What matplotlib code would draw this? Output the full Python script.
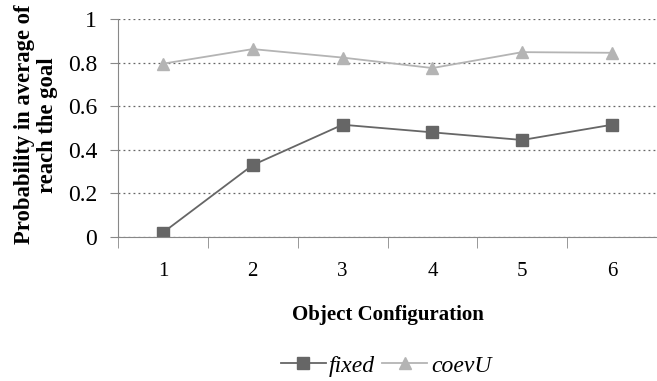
import matplotlib
matplotlib.use("Agg")
import matplotlib.pyplot as plt
import numpy as np

plt.rcParams.update({"font.family": ["Liberation Serif", "DejaVu Serif"], "font.size": 15})

configs = [1, 2, 3, 4, 5, 6]
fixed = [0.02, 0.33, 0.515, 0.48, 0.445, 0.515]
coevU = [0.795, 0.862, 0.823, 0.775, 0.848, 0.845]

fig = plt.figure(figsize=(6.57, 3.81), dpi=100)
ax = fig.add_axes([118/657, 144/381, (657-118)/657, 218/381])

ax.plot(configs, fixed, "-s", color="#666666", lw=1.3, ms=8, label="fixed")
ax.plot(configs, coevU, "-^", color="#b4b4b4", lw=1.3, ms=9, label="coevU")

ax.set_ylim(0, 1)
ax.set_xlim(0.5, 0.5 + (657-118)/90.8)
ax.set_yticks(np.arange(0, 1.01, 0.2))
ax.set_yticklabels(["0", "0.2", "0.4", "0.6", "0.8", "1"], fontsize=17)
ax.set_xticks(configs)
ax.set_xticks(np.arange(0.5, 7, 1), minor=True)
ax.tick_params(axis="x", which="major", length=0, pad=18, labelsize=15)
ax.tick_params(axis="x", which="minor", length=8, direction="out", color="#888888")
ax.tick_params(axis="y", length=6, color="#888888", pad=9)
ax.grid(axis="y", color="#666666", ls=(0, (1.5, 2.5)), lw=0.9)
ax.set_axisbelow(True)

for s in ["top", "right"]:
    ax.spines[s].set_visible(False)
for s in ["left", "bottom"]:
    ax.spines[s].set_color("#888888")

ax.set_xlabel("Object Configuration", fontweight="bold", fontsize=15, labelpad=17)
ax.set_ylabel("Probability in average of\nreach the goal", fontweight="bold", fontsize=16.3,
              linespacing=1.08)
ax.yaxis.set_label_coords(-0.112, 0.515)

fig.legend(loc="center", bbox_to_anchor=(386/657, 1 - 366/381), ncol=2, frameon=False,
           prop={"style": "italic", "size": 17}, handlelength=1.9, columnspacing=0.3,
           handletextpad=0.15, borderpad=0)
fig.savefig("out.png", dpi=100)
